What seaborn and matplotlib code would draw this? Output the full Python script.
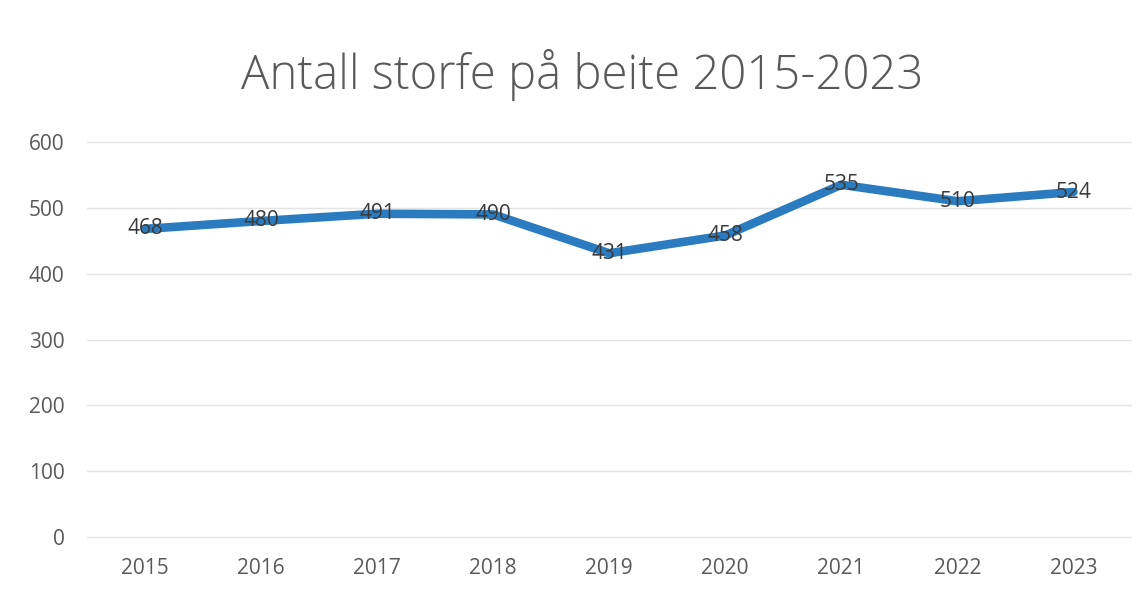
import matplotlib
matplotlib.use("Agg")
import matplotlib.pyplot as plt
import seaborn as sns
import pandas as pd

years = ["2015", "2016", "2017", "2018", "2019", "2020", "2021", "2022", "2023"]
values = [468, 480, 491, 490, 431, 458, 535, 510, 524]
title = "Antall storfe på beite 2015-2023"

sns.set_theme(style="white")
plt.rcParams['font.family'] = ['Open Sans', 'DejaVu Sans']

df = pd.DataFrame({"year": years, "value": values})

fig = plt.figure(figsize=(11.44, 5.89), dpi=100)
ax = fig.add_axes([0.076, 0.088, 0.913, 0.671])

sns.lineplot(data=df, x="year", y="value", ax=ax, color="#2a7bc0",
             linewidth=6.2, solid_capstyle="round", solid_joinstyle="round", sort=False)

for i, v in enumerate(values):
    ax.text(i, v, str(v), ha="center", va="center", fontsize=15, color="#3a3a3a")

ax.set_ylim(0, 600)
ax.set_xlim(-0.5, len(years) - 0.5)
ax.set_yticks(range(0, 601, 100))
ax.grid(axis="y", color="#e4e4e4", linewidth=1, clip_on=False)
ax.set_axisbelow(True)
for s in ax.spines.values():
    s.set_visible(False)
ax.set_xlabel("")
ax.set_ylabel("")
ax.tick_params(axis="both", labelsize=15, colors="#595959", length=0)
ax.tick_params(axis="x", pad=15)
ax.tick_params(axis="y", pad=16)

fig.text(0.509, 0.872, title, ha="center", va="center", fontsize=34,
         color="#595959", fontweight="light")

fig.savefig("out.png", dpi=100)
